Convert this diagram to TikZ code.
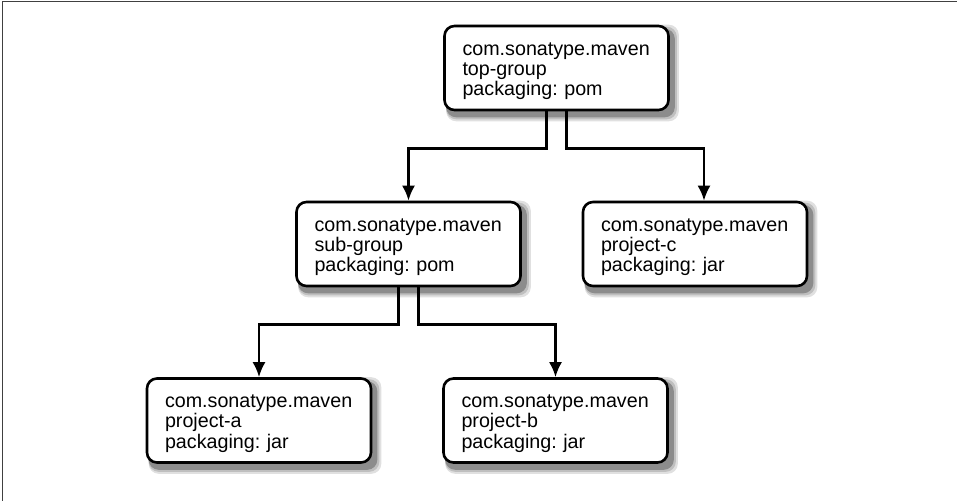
\documentclass[tikz,border=0pt]{standalone}
\usepackage{fontspec}
\setmainfont{Liberation Sans}
\frenchspacing
\usetikzlibrary{arrows.meta, backgrounds}

\tikzset{
  box/.style={draw, rounded corners=10pt, line width=2.6pt, fill=white,
    text width=188pt, inner xsep=18pt, minimum height=84pt, align=left,
    execute at begin node={\rule{0pt}{19pt}},
    font=\fontsize{19.7}{20.3}\selectfont},
  boxshadow/.style={rounded corners=10pt},
  conn/.style={-{Latex[length=15pt, width=13pt]}, line width=2.4pt},
}

\begin{document}
\begin{tikzpicture}[x=1pt, y=-1pt]

\useasboundingbox (0,0) rectangle (957,501);
\draw[line width=1.6pt, black!75] (957,1.5) -- (2.5,1.5) -- (2.5,501);


\node[box] (top_group) at (556.5,68) {com.sonatype.maven\\top-group\\packaging: pom};



% second row
\node[box] (sub_group) at (408.5,244) {com.sonatype.maven\\sub-group\\packaging: pom};
\draw[conn] ([xshift=-10pt]top_group.south) -- ++(0,37) -| (sub_group);

\node[box] (project_c) at (695,244) {com.sonatype.maven\\project-c\\packaging: jar};
\draw[conn] ([xshift=10pt]top_group.south) -- ++(0,37) -| ([xshift=9pt]project_c.north);


%third row
\node[box] (project_a) at (259,420.5) {com.sonatype.maven\\project-a\\packaging: jar};
\draw[conn] ([xshift=-10pt]sub_group.south) -- ++(0,37) -| (project_a);

\node[box] (project_b) at (555.5,420.5) {com.sonatype.maven\\project-b\\packaging: jar};
\draw[conn] ([xshift=10pt]sub_group.south) -- ++(0,37) -| (project_b);


% shadows
\begin{scope}[on background layer]
\foreach \n in {top_group, sub_group, project_c, project_a, project_b} {
  \fill[boxshadow, black!12] ([shift={(3pt,-10pt)}]\n.south west) rectangle ([shift={(9pt,0pt)}]\n.north east);
  \fill[boxshadow, black!25] ([shift={(3pt,-8pt)}]\n.south west) rectangle ([shift={(7pt,-2pt)}]\n.north east);
  \fill[boxshadow, black!45] ([shift={(3pt,-6pt)}]\n.south west) rectangle ([shift={(5pt,-4pt)}]\n.north east);
}
\end{scope}

\end{tikzpicture}
\end{document}
